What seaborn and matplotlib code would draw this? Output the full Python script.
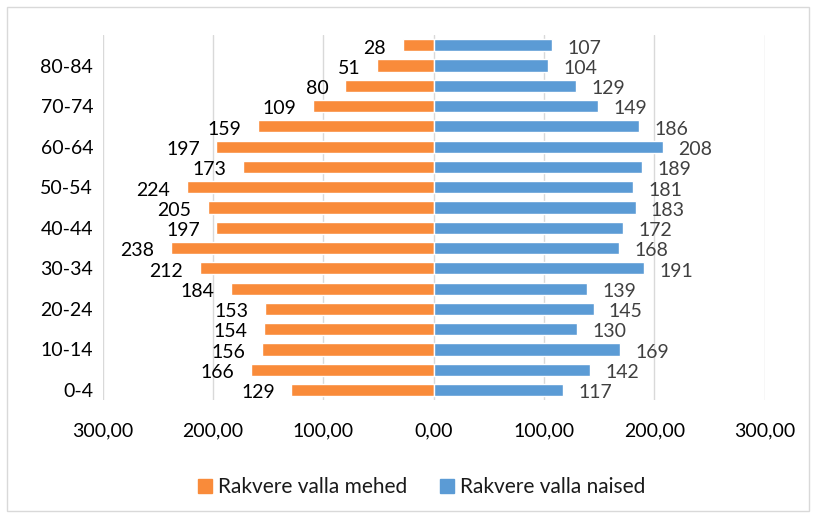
import numpy as np
import pandas as pd
import matplotlib
matplotlib.use("Agg")
import matplotlib.pyplot as plt
import seaborn as sns
from matplotlib.patches import Rectangle, Patch

# age groups, bottom to top
ages = ["0-4", "5-9", "10-14", "15-19", "20-24", "25-29", "30-34", "35-39",
        "40-44", "45-49", "50-54", "55-59", "60-64", "65-69", "70-74",
        "75-79", "80-84", "85+"]
men = [129, 166, 156, 154, 153, 184, 212, 238, 197, 205, 224, 173, 197,
       159, 109, 80, 51, 28]
women = [117, 142, 169, 130, 145, 139, 191, 168, 172, 183, 181, 189, 208,
         186, 149, 129, 104, 107]
men_label = "Rakvere valla mehed"
women_label = "Rakvere valla naised"
xticks = [-300, -200, -100, 0, 100, 200, 300]

orange = "#F98B3A"
blue = "#5B9BD5"

sns.set_style("white")
plt.rcParams['font.family'] = ['Lato', 'DejaVu Sans']

df = pd.DataFrame({"age": ages, "men": [-m for m in men], "women": women})
order = ages[::-1]

fig = plt.figure(figsize=(8.16, 5.17), dpi=100)
ax = fig.add_axes([0.126, 0.226, 0.811, 0.706])

sns.barplot(data=df, y="age", x="men", order=order, color=orange,
            width=0.6, saturation=1, ax=ax, orient="h")
sns.barplot(data=df, y="age", x="women", order=order, color=blue,
            width=0.6, saturation=1, ax=ax, orient="h")

# value labels
for i, a in enumerate(order):
    k = ages.index(a)
    ax.annotate(str(men[k]), xy=(-men[k], i), xytext=(-12, -2),
                textcoords="offset points", ha="right", va="center",
                fontsize=14, color="#000000")
    ax.annotate(str(women[k]), xy=(women[k], i), xytext=(11, -2),
                textcoords="offset points", ha="left", va="center",
                fontsize=14, color="#404040")

ax.set_xlim(-300, 300)
ax.set_xticks(xticks)
ax.set_xticklabels([f"{abs(v):.2f}".replace(".", ",") for v in xticks],
                   fontsize=14, color="#000000")
ax.tick_params(axis="x", pad=16, length=0)
ax.tick_params(axis="y", length=0, pad=7)
ylabs = [a if ages.index(a) % 2 == 0 and a != "85+" else "" for a in order]
ax.set_yticks(range(len(order)))
ax.set_yticklabels(ylabs, fontsize=14, color="#000000")
ax.set_xlabel("")
ax.set_ylabel("")

ax.grid(axis="x", color="#D9D9D9", linewidth=1)
ax.set_axisbelow(True)
for s in ax.spines.values():
    s.set_visible(False)

handles = [Patch(color=orange, label=men_label), Patch(color=blue, label=women_label)]
leg = fig.legend(handles=handles, loc="center", bbox_to_anchor=(0.517, 0.058),
                 ncol=2, frameon=False, fontsize=15, handlelength=0.65,
                 handleheight=0.65, handletextpad=0.3, columnspacing=1.6)
for t in leg.get_texts():
    t.set_color("#1A1A1A")

fig.patches.append(Rectangle((0.008, 0.012), 0.984, 0.975, transform=fig.transFigure,
                             fill=False, edgecolor="#D9D9D9", linewidth=1))

fig.savefig("out.png", dpi=100)
